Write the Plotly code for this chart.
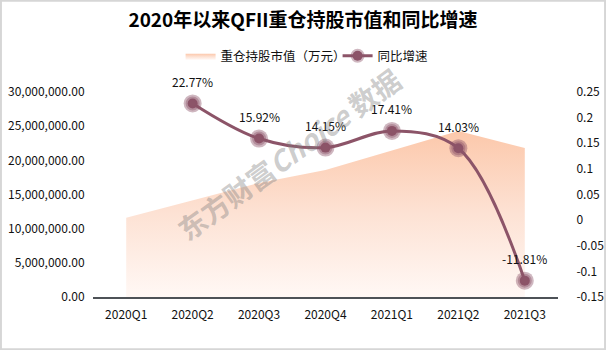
import plotly.graph_objects as go

categories = ["2020Q1", "2020Q2", "2020Q3", "2020Q4", "2021Q1", "2021Q2", "2021Q3"]
market_value = [11600000, 14200000, 16700000, 18600000, 21500000, 24300000, 21800000]
yoy_growth = [None, 0.2277, 0.1592, 0.1415, 0.1741, 0.1403, -0.1181]
yoy_labels = ["", "22.77%", "15.92%", "14.15%", "17.41%", "14.03%", "-11.81%"]
right_tickvals = [0.25, 0.2, 0.15, 0.1, 0.05, 0, -0.05, -0.1, -0.15]
right_ticktext = ["0.25", "0.2", "0.15", "0.1", "0.05", "0", "-0.05", "-0.1", "-0.15"]
left_tickvals = [0, 5000000, 10000000, 15000000, 20000000, 25000000, 30000000]

FONT = "Noto Sans CJK SC"
LINE_C = "#8c5468"
HALO_C = "rgba(140,84,104,0.42)"

fig = go.Figure()

fig.add_trace(go.Scatter(
    x=categories, y=market_value, name="重仓持股市值（万元）",
    mode="lines", line=dict(width=0, color="#fcc6a8"),
    fill="tozeroy",
    fillgradient=dict(type="vertical",
                      colorscale=[[0, "rgba(255,248,245,1)"], [0.5, "#fde2d4"], [1, "#fcc8ab"]]),
    yaxis="y", hoverinfo="skip",
))

# halo markers
fig.add_trace(go.Scatter(
    x=categories, y=yoy_growth, mode="markers", yaxis="y2",
    marker=dict(size=18, color=HALO_C), showlegend=False, hoverinfo="skip",
))

fig.add_trace(go.Scatter(
    x=categories, y=yoy_growth, name="同比增速",
    mode="lines+markers", yaxis="y2",
    line=dict(color=LINE_C, width=3, shape="spline", smoothing=1.0),
    marker=dict(size=10, color=LINE_C, line=dict(width=4, color=HALO_C)),
))

annotations = []
for c, v, t in zip(categories, yoy_growth, yoy_labels):
    if v is None:
        continue
    annotations.append(dict(x=c, y=v, xref="x", yref="y2", text=t, showarrow=False,
                            yshift=22, font=dict(family=FONT, size=12, color="#111")))

annotations.append(dict(
    x=0.42, y=0.70, xref="paper", yref="paper", showarrow=False, textangle=-36,
    xanchor="center", yanchor="middle",
    text="<b>东方财富</b><b><i>Choice</i></b><b> 数据</b>",
    font=dict(family=FONT, size=28, color="rgba(125,125,125,0.40)"),
))

pw, ph = 465.0, 205.0
fig.update_layout(
    width=606, height=350,
    margin=dict(l=93, r=48, t=92, b=53, autoexpand=False),
    paper_bgcolor="white", plot_bgcolor="white",
    title=dict(text="<b>2020年以来QFII重仓持股市值和同比增速</b>", x=0.5, xanchor="center",
               y=0.943, yanchor="middle",
               font=dict(family=FONT, size=19, color="#000")),
    legend=dict(orientation="h", x=0.526, xanchor="center", y=1.175, yanchor="middle",
                font=dict(family=FONT, size=12.5, color="#111"),
                itemwidth=30, entrywidth=112, tracegroupgap=0, bgcolor="rgba(0,0,0,0)"),
    xaxis=dict(type="category", showgrid=False, zeroline=False,
               showline=True, linecolor="#4d5257", linewidth=1.5,
               ticks="outside", ticklen=6, tickcolor="rgba(0,0,0,0)",
               tickfont=dict(family=FONT, size=12, color="#111"),
               range=[-0.5, 6.5], automargin=False),
    yaxis=dict(range=[0, 30000000], tickvals=left_tickvals, tickformat=",.2f",
               showgrid=False, zeroline=False, showline=False,
               ticks="outside", ticklen=5, tickcolor="rgba(0,0,0,0)",
               tickfont=dict(family=FONT, size=12, color="#111"), automargin=False),
    yaxis2=dict(range=[-0.15, 0.25], overlaying="y", side="right",
                tickvals=right_tickvals, ticktext=right_ticktext,
                showgrid=False, zeroline=False, showline=False,
                ticks="outside", ticklen=15, tickcolor="rgba(0,0,0,0)",
                tickfont=dict(family=FONT, size=12, color="#111"), automargin=False),
    annotations=annotations,
    shapes=[dict(type="rect", xref="paper", yref="paper",
                 x0=-93 / pw + 0.002, x1=(606 - 93) / pw - 0.002,
                 y0=-53 / ph + 0.004, y1=297 / ph - 0.004,
                 line=dict(color="#d6d6d6", width=2), layer="below")],
)

fig.write_html("out.html")
